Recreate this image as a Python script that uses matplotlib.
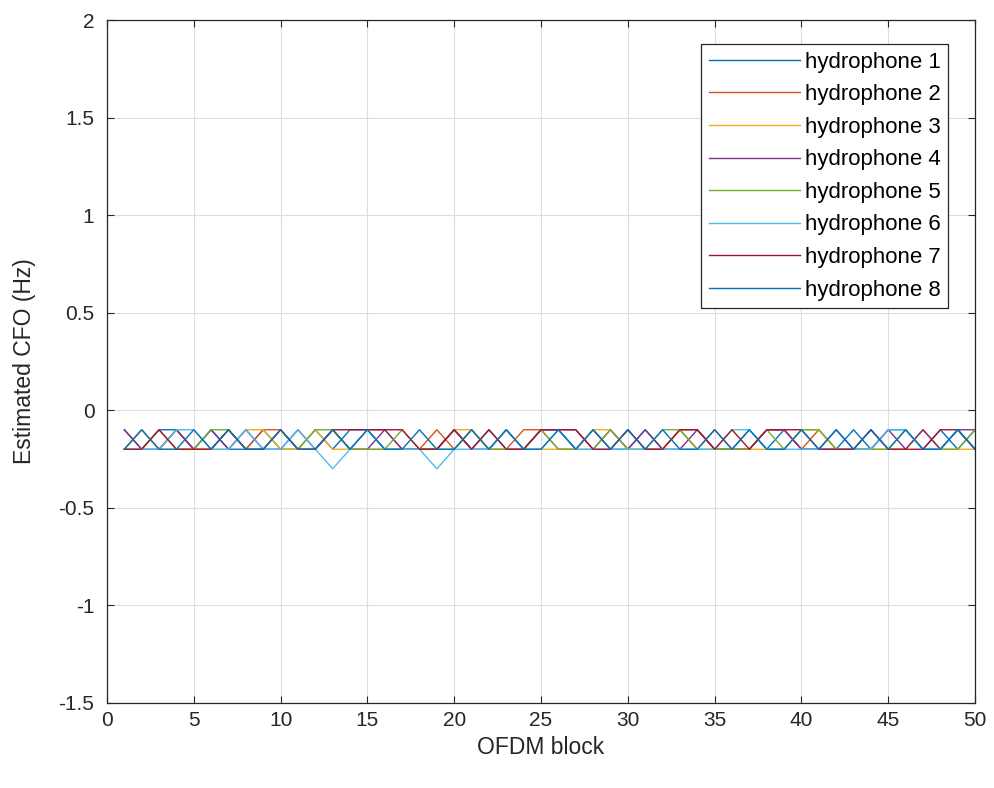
import matplotlib
matplotlib.use("Agg")
import matplotlib.pyplot as plt
import numpy as np

plt.rcParams['font.family'] = ['Liberation Sans', 'DejaVu Sans']

blocks = list(range(1, 51))
labels = [f"hydrophone {i}" for i in range(1, 9)]
colors = ["#0072BD", "#D95319", "#EDB120", "#7E2F8E",
          "#77AC30", "#4DBEEE", "#A2142F", "#0072BD"]

h1 = [-0.1,-0.2,-0.1,-0.1,-0.2,-0.1,-0.2,-0.2,-0.1,-0.2,
      -0.2,-0.1,-0.2,-0.1,-0.1,-0.2,-0.2,-0.2,-0.2,-0.1,
      -0.2,-0.1,-0.2,-0.2,-0.1,-0.1,-0.2,-0.1,-0.2,-0.2,
      -0.1,-0.2,-0.1,-0.1,-0.2,-0.2,-0.1,-0.2,-0.1,-0.2,
      -0.2,-0.2,-0.1,-0.2,-0.1,-0.1,-0.2,-0.1,-0.2,-0.1]
h2 = [-0.2,-0.1,-0.2,-0.1,-0.2,-0.2,-0.1,-0.2,-0.1,-0.1,
      -0.2,-0.2,-0.1,-0.2,-0.1,-0.1,-0.2,-0.2,-0.1,-0.2,
      -0.1,-0.2,-0.2,-0.1,-0.1,-0.2,-0.2,-0.1,-0.2,-0.1,
      -0.2,-0.2,-0.1,-0.2,-0.1,-0.2,-0.2,-0.1,-0.1,-0.2,
      -0.1,-0.2,-0.2,-0.1,-0.2,-0.2,-0.1,-0.2,-0.1,-0.2]
h3 = [-0.2,-0.1,-0.2,-0.2,-0.2,-0.2,-0.2,-0.1,-0.1,-0.2,
      -0.2,-0.1,-0.2,-0.2,-0.2,-0.2,-0.2,-0.2,-0.2,-0.1,
      -0.1,-0.2,-0.1,-0.2,-0.2,-0.2,-0.2,-0.1,-0.1,-0.2,
      -0.2,-0.2,-0.1,-0.1,-0.2,-0.2,-0.2,-0.2,-0.2,-0.1,
      -0.1,-0.2,-0.2,-0.2,-0.2,-0.2,-0.1,-0.2,-0.2,-0.2]
h4 = [-0.1,-0.2,-0.2,-0.1,-0.2,-0.1,-0.2,-0.1,-0.2,-0.2,
      -0.1,-0.2,-0.1,-0.2,-0.2,-0.1,-0.2,-0.2,-0.2,-0.1,
      -0.2,-0.2,-0.1,-0.2,-0.1,-0.1,-0.1,-0.2,-0.1,-0.2,
      -0.1,-0.2,-0.2,-0.1,-0.2,-0.2,-0.2,-0.1,-0.1,-0.2,
      -0.2,-0.1,-0.2,-0.2,-0.1,-0.2,-0.1,-0.2,-0.1,-0.1]
h5 = [-0.2,-0.2,-0.1,-0.2,-0.2,-0.1,-0.1,-0.2,-0.2,-0.1,
      -0.2,-0.1,-0.1,-0.2,-0.2,-0.2,-0.1,-0.2,-0.2,-0.2,
      -0.1,-0.2,-0.2,-0.2,-0.1,-0.2,-0.2,-0.2,-0.1,-0.2,
      -0.2,-0.1,-0.1,-0.2,-0.2,-0.2,-0.2,-0.1,-0.2,-0.1,
      -0.1,-0.2,-0.2,-0.2,-0.2,-0.1,-0.2,-0.2,-0.2,-0.1]
h6 = [-0.2,-0.2,-0.2,-0.1,-0.1,-0.2,-0.2,-0.1,-0.2,-0.2,
      -0.1,-0.2,-0.3,-0.2,-0.1,-0.2,-0.2,-0.2,-0.3,-0.2,
      -0.2,-0.2,-0.1,-0.2,-0.2,-0.1,-0.2,-0.2,-0.2,-0.2,
      -0.2,-0.2,-0.2,-0.2,-0.2,-0.1,-0.1,-0.2,-0.2,-0.2,
      -0.2,-0.2,-0.2,-0.2,-0.1,-0.1,-0.2,-0.2,-0.1,-0.2]
h7 = [-0.2,-0.2,-0.1,-0.2,-0.2,-0.2,-0.1,-0.2,-0.2,-0.1,
      -0.2,-0.2,-0.1,-0.1,-0.1,-0.1,-0.1,-0.2,-0.2,-0.1,
      -0.2,-0.1,-0.2,-0.2,-0.1,-0.1,-0.1,-0.2,-0.2,-0.1,
      -0.2,-0.2,-0.1,-0.1,-0.2,-0.1,-0.2,-0.1,-0.1,-0.1,
      -0.2,-0.2,-0.2,-0.1,-0.2,-0.2,-0.2,-0.1,-0.1,-0.2]
h8 = [-0.2,-0.1,-0.2,-0.2,-0.1,-0.2,-0.1,-0.2,-0.2,-0.1,
      -0.2,-0.2,-0.1,-0.2,-0.1,-0.2,-0.2,-0.1,-0.2,-0.2,
      -0.1,-0.2,-0.1,-0.2,-0.2,-0.1,-0.2,-0.1,-0.2,-0.1,
      -0.2,-0.1,-0.2,-0.2,-0.1,-0.2,-0.1,-0.2,-0.2,-0.1,
      -0.2,-0.1,-0.2,-0.1,-0.2,-0.1,-0.2,-0.2,-0.1,-0.2]
series = [h1, h2, h3, h4, h5, h6, h7, h8]

xticks = list(range(0, 51, 5))
yticks = [-1.5, -1, -0.5, 0, 0.5, 1, 1.5, 2]
yticklabels = ["-1.5", "-1", "-0.5", "0", "0.5", "1", "1.5", "2"]

fig = plt.figure(figsize=(9.95, 7.88), dpi=100)
ax = fig.add_axes([0.1075, 0.108, 0.8725, 0.8666])

for s, c, lab in zip(series, colors, labels):
    ax.plot(blocks, s, color=c, lw=1.0, label=lab)

ax.set_xlim(0, 50)
ax.set_ylim(-1.5, 2)
ax.set_xticks(xticks)
ax.set_yticks(yticks)
ax.set_yticklabels(yticklabels)
ax.grid(True, color="#dddddd", lw=0.8)
ax.set_axisbelow(True)
ax.tick_params(direction="in", length=5, labelsize=15, colors="#262626",
               top=True, right=True, labeltop=False, labelright=False)
ax.tick_params(axis="y", pad=9)
ax.tick_params(axis="x", pad=6)
for sp in ax.spines.values():
    sp.set_color("#262626")
    sp.set_linewidth(0.9)

ax.set_xlabel("OFDM block", fontsize=16.5, color="#262626", labelpad=4)
ax.set_ylabel("Estimated CFO (Hz)", fontsize=16.5, color="#262626", labelpad=16)

leg = ax.legend(loc="upper right", bbox_to_anchor=(0.969, 0.965), fontsize=16,
                handlelength=4.1, handletextpad=0.2, labelspacing=0.52,
                borderpad=0.35, borderaxespad=0, fancybox=False, framealpha=1,
                edgecolor="#262626")
leg.get_frame().set_linewidth(0.9)

fig.savefig("out.png", dpi=100)
